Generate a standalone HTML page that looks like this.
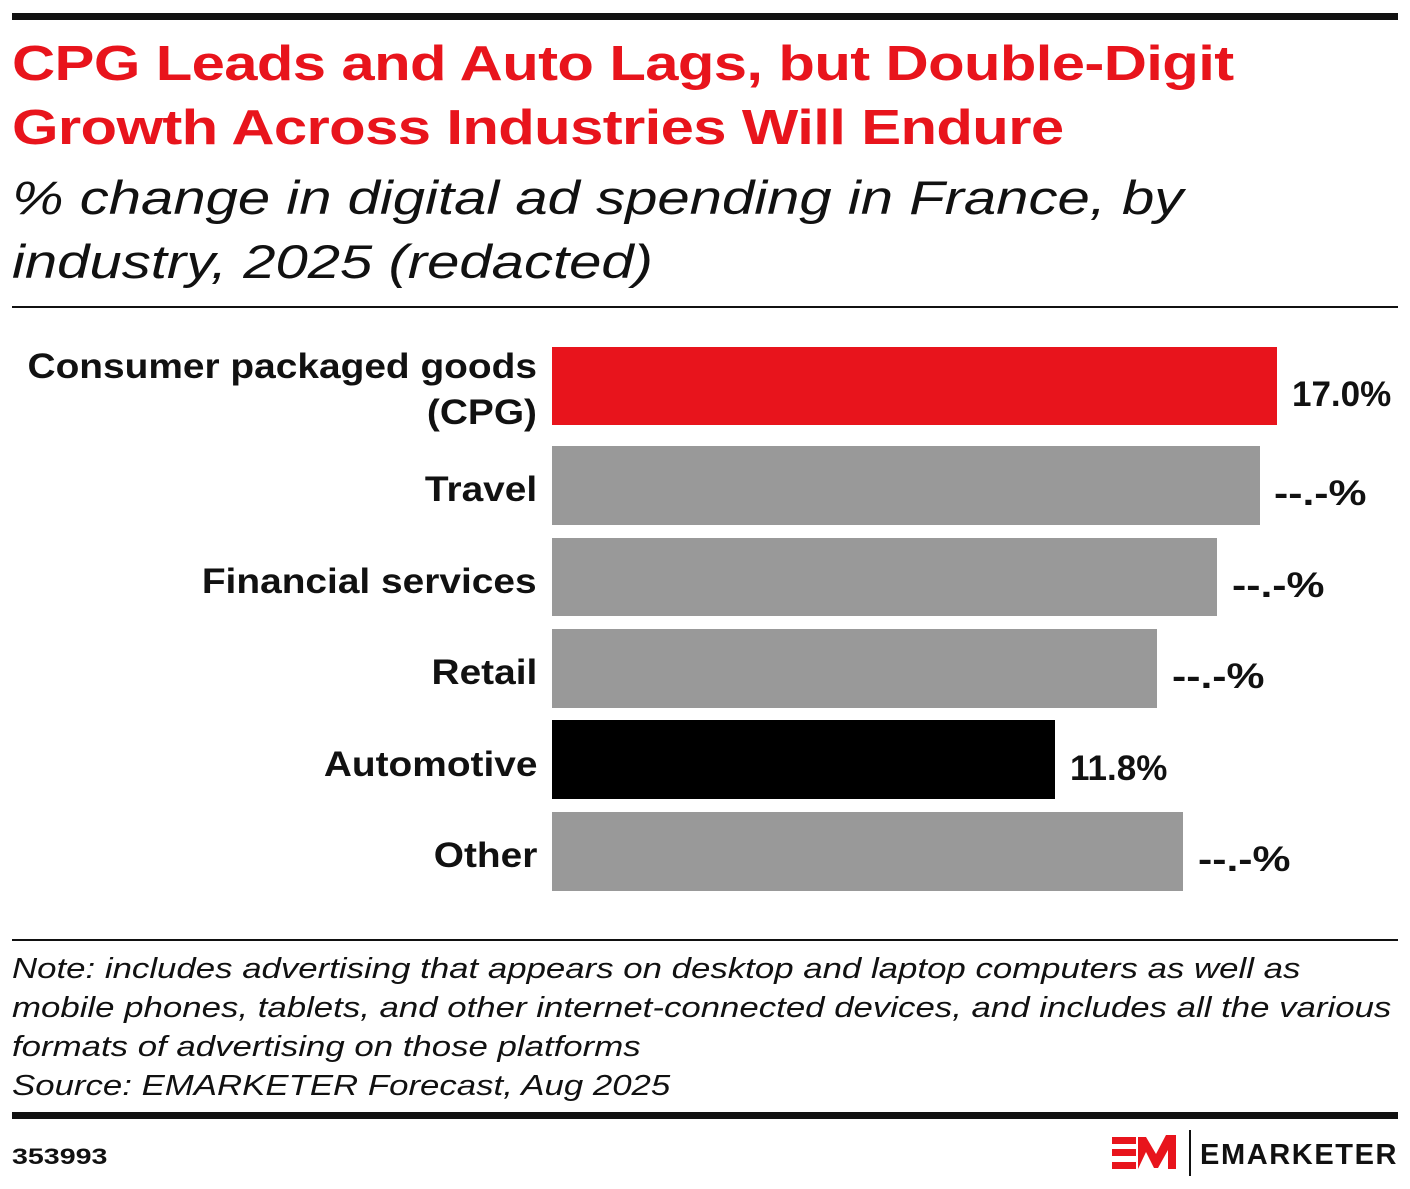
<!DOCTYPE html><html><head><style>
body{margin:0;width:1410px;height:1189px;background:#fff;position:relative;font-family:"Liberation Sans",sans-serif;overflow:hidden}
div{position:absolute}
.t{left:12px;color:#e8141c;font-weight:bold;font-size:49px;line-height:64px;letter-spacing:-0.5px;transform:scaleX(1.22);transform-origin:0 0;white-space:nowrap}
.s{left:12px;font-style:italic;font-size:47px;line-height:64px;color:#111;transform:scaleX(1.235);transform-origin:0 0;white-space:nowrap}
.lab{right:873px;text-align:right;font-weight:bold;font-size:35px;line-height:46px;color:#111;transform:scaleX(1.11);transform-origin:100% 0;white-space:nowrap}
.bar{left:552px}
.v{font-weight:bold;font-size:35px;line-height:40px;color:#111}
.d{transform:scaleX(1.22);transform-origin:0 0}
.n{left:12px;font-style:italic;font-size:29px;line-height:39px;color:#111;transform:scaleX(1.2);transform-origin:0 0;white-space:nowrap}
</style></head><body>
<div style="left:12px;top:13px;width:1386px;height:7px;background:#111"></div>
<div class="t" style="top:32px">CPG Leads and Auto Lags, but Double-Digit<br>Growth Across Industries Will Endure</div>
<div class="s" style="top:166px">% change in digital ad spending in France, by<br>industry, 2025 (redacted)</div>
<div style="left:12px;top:306px;width:1386px;height:2px;background:#111"></div>

<div class="lab" style="top:344px">Consumer packaged goods<br>(CPG)</div>
<div class="bar" style="top:347px;width:725px;height:78px;background:#e8141c"></div>
<div class="v" style="left:1292px;top:375px">17.0%</div>

<div class="lab" style="top:467px">Travel</div>
<div class="bar" style="top:446px;width:708px;height:79px;background:#999"></div>
<div class="v d" style="left:1274px;top:474px">--.-%</div>

<div class="lab" style="top:559px">Financial services</div>
<div class="bar" style="top:538px;width:665px;height:78px;background:#999"></div>
<div class="v d" style="left:1232px;top:566px">--.-%</div>

<div class="lab" style="top:650px">Retail</div>
<div class="bar" style="top:629px;width:605px;height:79px;background:#999"></div>
<div class="v d" style="left:1172px;top:657px">--.-%</div>

<div class="lab" style="top:742px">Automotive</div>
<div class="bar" style="top:720px;width:503px;height:79px;background:#000"></div>
<div class="v" style="left:1070px;top:749px">11.8%</div>

<div class="lab" style="top:833px">Other</div>
<div class="bar" style="top:812px;width:631px;height:79px;background:#999"></div>
<div class="v d" style="left:1198px;top:840px">--.-%</div>

<div style="left:12px;top:939px;width:1386px;height:2px;background:#111"></div>
<div class="n" style="top:950px">Note: includes advertising that appears on desktop and laptop computers as well as<br>mobile phones, tablets, and other internet-connected devices, and includes all the various<br>formats of advertising on those platforms<br>Source: EMARKETER Forecast, Aug 2025</div>
<div style="left:12px;top:1112px;width:1386px;height:7px;background:#111"></div>
<div style="left:12px;top:1144px;font-weight:bold;font-size:22px;color:#111;transform:scaleX(1.3);transform-origin:0 0">353993</div>
<svg style="position:absolute;left:1110px;top:1132px" width="70" height="44" viewBox="0 0 70 44">
<rect x="2" y="5" width="24" height="7" fill="#e8141c"/><rect x="2" y="17" width="24" height="7" fill="#e8141c"/><rect x="2" y="30" width="24" height="7" fill="#e8141c"/>
<polygon points="28,5 36,5 46,22 56,3 66,3 66,37 58,37 58,18 48,36 44,36 36,20 28,37" fill="#e8141c"/>
</svg>
<div style="left:1189px;top:1130px;width:2px;height:46px;background:#111"></div>
<div style="left:1200px;top:1139px;font-weight:bold;font-size:29px;letter-spacing:1.6px;color:#111">EMARKETER</div>
</body></html>
